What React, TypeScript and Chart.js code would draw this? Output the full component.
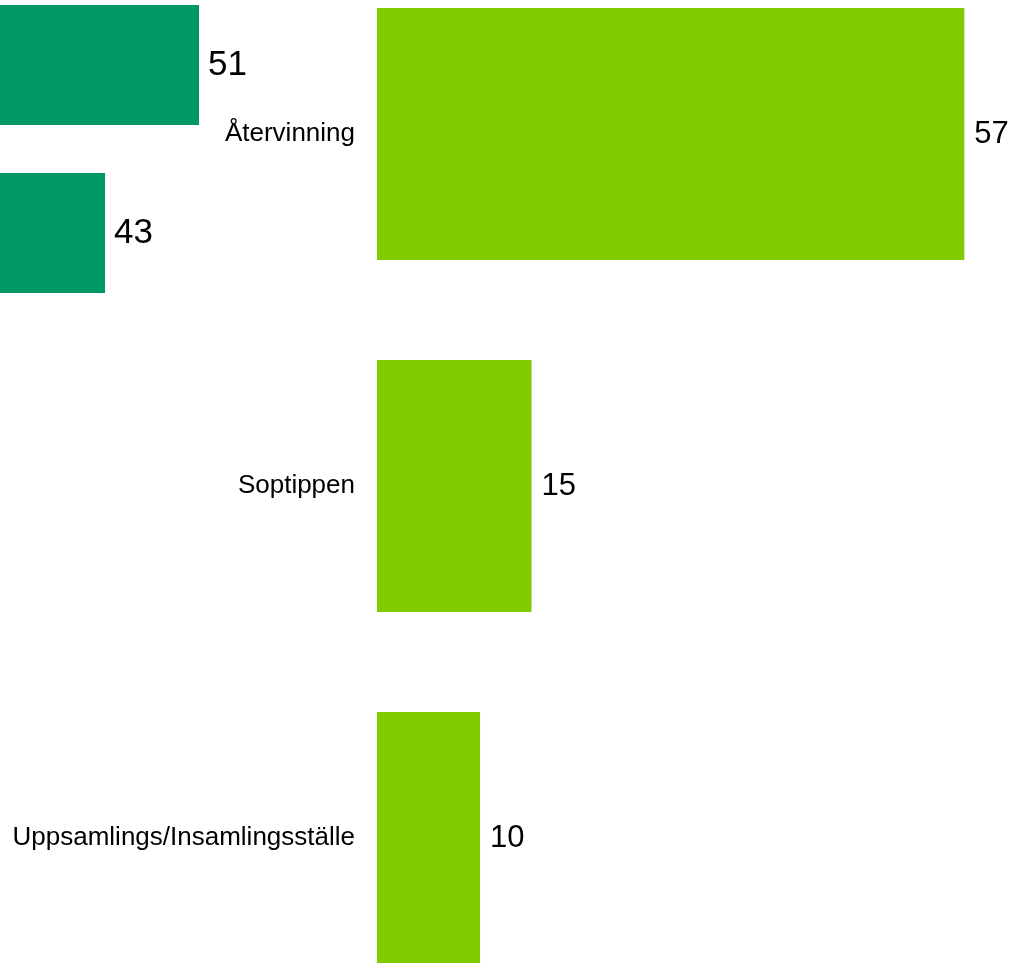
import React, { useEffect, useRef } from "react";
import { Chart, registerables } from "chart.js";

Chart.register(...registerables);

const leftCategories = ["A", "B"];
const leftValues = [51, 43];
const rightCategories = ["Återvinning", "Soptippen", "Uppsamlings/Insamlingsställe"];
const rightValues = [57, 15, 10];

const FONT = "'Liberation Sans', Arial, sans-serif";

const valueLabels = (size: number, gap: number) => ({
  id: "valueLabels" + size,
  afterDatasetsDraw(chart: any) {
    const ctx = chart.ctx;
    ctx.save();
    ctx.font = `${size}px ${FONT}`;
    ctx.fillStyle = "#000";
    ctx.textAlign = "left";
    ctx.textBaseline = "middle";
    chart.data.datasets.forEach((ds: any, di: number) => {
      const meta = chart.getDatasetMeta(di);
      meta.data.forEach((el: any, i: number) => {
        ctx.fillText(String(ds.data[i]), el.x + gap, el.y);
      });
    });
    ctx.restore();
  },
});

export default function App() {
  const leftRef = useRef<HTMLCanvasElement>(null);
  const rightRef = useRef<HTMLCanvasElement>(null);

  useEffect(() => {
    const left = new Chart(leftRef.current!, {
      type: "bar",
      data: {
        labels: leftCategories,
        datasets: [
          {
            data: leftValues,
            backgroundColor: "#009966",
            categoryPercentage: 0.715,
            barPercentage: 1,
          },
        ],
      },
      options: {
        indexAxis: "y",
        animation: false,
        responsive: false,
        maintainAspectRatio: false,
        layout: { padding: 0 },
        plugins: { legend: { display: false }, tooltip: { enabled: false } },
        scales: {
          x: { display: false, min: 34.06, max: 64.7 },
          y: { display: false },
        },
      },
      plugins: [valueLabels(35, 9)],
    });

    const right = new Chart(rightRef.current!, {
      type: "bar",
      data: {
        labels: rightCategories,
        datasets: [
          {
            data: rightValues,
            backgroundColor: "#80CC00",
            categoryPercentage: 0.716,
            barPercentage: 1,
          },
        ],
      },
      options: {
        indexAxis: "y",
        animation: false,
        responsive: false,
        maintainAspectRatio: false,
        layout: { padding: 0 },
        plugins: { legend: { display: false }, tooltip: { enabled: false } },
        scales: {
          x: { display: false, min: 0, max: 62.5 },
          y: {
            grid: { display: false, drawTicks: false },
            border: { display: false },
            ticks: {
              font: { family: FONT, size: 26 },
              color: "#000",
              padding: 22,
            },
            afterFit: (scale: any) => {
              scale.width = 377;
              scale.paddingTop = 0;
              scale.paddingBottom = 0;
            },
          },
        },
      },
      plugins: [valueLabels(31, 10)],
    });

    return () => {
      left.destroy();
      right.destroy();
    };
  }, []);

  return (
    <div
      style={{
        position: "absolute",
        left: 0,
        top: 0,
        width: 1021,
        height: 963,
        overflow: "hidden",
        background: "#fff",
      }}
    >
      <canvas
        ref={rightRef}
        width={1021}
        height={1056}
        style={{ position: "absolute", left: 0, top: -42, width: 1021, height: 1056 }}
      />
      <canvas
        ref={leftRef}
        width={360}
        height={336}
        style={{ position: "absolute", left: 0, top: -19, width: 360, height: 336 }}
      />
    </div>
  );
}
